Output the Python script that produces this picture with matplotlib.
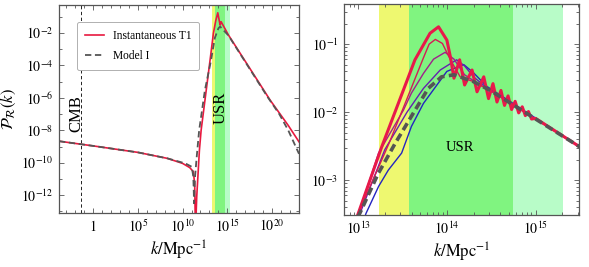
import matplotlib
matplotlib.use("Agg")
import matplotlib.pyplot as plt
import numpy as np
from matplotlib.ticker import FixedLocator, FixedFormatter, LogLocator, NullFormatter

plt.rcParams["font.family"] = ["Liberation Serif", "DejaVu Serif"]
plt.rcParams["mathtext.fontset"] = "stix"

# ---- left panel: full spectrum, log10 k vs log10 P ----
t1_logk = [-3.8, 0, 5, 8.3, 10.0, 10.8, 11.2, 11.35, 11.42, 11.48, 11.58, 11.88, 12.07,
           12.6, 13.07, 13.44, 13.7, 13.93, 14.19, 14.3, 15.12, 19.78, 21.8, 23.0]
t1_logp = [-8.67, -8.96, -9.36, -9.73, -10.04, -10.30, -10.55, -11.3, -13.6, -13.6, -12.1, -9.22, -8.0,
           -5.7, -3.67, -2.02, -1.25, -0.75, -1.51, -1.30, -2.12, -6.14, -7.70, -8.71]

m1_logk = [-3.8, 0, 5, 8.3, 10.3, 11.03, 11.2, 11.25, 11.28, 11.33, 11.4, 11.6, 11.85,
           12.5, 13.18, 13.6, 14.0, 14.19, 15.12, 19.5, 20.8, 21.8, 23.0]
m1_logp = [-8.67, -8.96, -9.36, -9.73, -10.04, -10.25, -10.87, -11.8, -12.5, -11.6, -10.8, -9.5, -8.0,
           -5.5, -3.67, -2.3, -1.71, -1.60, -2.15, -5.95, -7.0, -8.0, -9.45]

cmb_k = 0.05
usr_edges = [1.7e13, 3.7e13, 5.6e14, 2.05e15]   # yellow | green | light green

# ---- right panel: zoom on the peak ----
inst_a_logk = [12.9, 13.0, 13.265, 13.64, 13.81, 13.906, 14.0, 14.04, 14.08, 14.144, 14.20, 14.284,
               14.34, 14.416, 14.47, 14.52, 14.565, 14.61, 14.65, 14.69, 14.73, 14.77, 14.81, 14.85,
               14.885, 14.92, 14.955, 15.0, 15.5]
inst_a_logp = [-3.84, -3.49, -2.51, -1.23, -0.84, -0.745, -0.94, -1.19, -1.50, -1.23, -1.60, -1.38,
               -1.70, -1.48, -1.80, -1.58, -1.85, -1.68, -1.90, -1.76, -1.96, -1.84, -2.01, -1.92,
               -2.05, -1.99, -2.10, -2.09, -2.51]

inst_b_logk = [12.9, 13.0, 13.35, 13.736, 13.80, 13.87, 13.95, 14.04, 14.15, 14.3, 14.49, 15.5]
inst_b_logp = [-3.84, -3.49, -2.45, -1.20, -1.00, -0.93, -0.99, -1.23, -1.48, -1.55, -1.68, -2.51]

inst_c_logk = [12.9, 13.0, 13.23, 13.51, 13.60, 13.736, 13.85, 13.98, 14.08, 14.2, 14.35, 14.49, 15.5]
inst_c_logp = [-3.9, -3.5, -2.60, -1.97, -1.72, -1.43, -1.22, -1.12, -1.22, -1.45, -1.58, -1.68, -2.51]

inst_d_logk = [12.92, 13.02, 13.3, 13.55, 13.736, 13.925, 14.11, 14.2, 14.3, 14.45, 15.5]
inst_d_logp = [-3.9, -3.49, -2.55, -2.0, -1.65, -1.38, -1.23, -1.32, -1.48, -1.64, -2.51]

inst_e_logk = [13.0, 13.087, 13.23, 13.34, 13.49, 13.60, 13.736, 14.0, 14.19, 14.3, 14.45, 15.5]
inst_e_logp = [-3.85, -3.49, -3.09, -2.85, -2.60, -2.21, -1.87, -1.40, -1.30, -1.42, -1.62, -2.51]

model_logk = [12.93, 13.02, 13.226, 13.416, 13.6, 13.79, 13.94, 14.08, 14.19, 14.3, 14.49, 15.5]
model_logp = [-3.7, -3.48, -2.90, -2.46, -2.06, -1.65, -1.48, -1.45, -1.50, -1.55, -1.68, -2.51]

band_cols = ["#eef870", "#80f480", "#b8fcc8"]
GRAY = "#555555"


def pw(a):
    return 10.0 ** np.asarray(a)


def bands(ax):
    for lo, hi, c in zip(usr_edges[:-1], usr_edges[1:], band_cols):
        ax.axvspan(lo, hi, color=c, lw=0, zorder=0)


def frame(ax):
    for s in ax.spines.values():
        s.set_color(GRAY)
        s.set_linewidth(0.9)
    ax.tick_params(which="both", direction="in", top=True, right=True, color=GRAY,
                   width=0.6, labelsize=10, pad=4)
    ax.tick_params(which="major", length=3.5)
    ax.tick_params(which="minor", length=2)


fig = plt.figure(figsize=(5.89, 2.67), dpi=100)
ax1 = fig.add_axes([59 / 589, 54 / 267, 240 / 589, 208 / 267])
ax2 = fig.add_axes([344 / 589, 52 / 267, 235 / 589, 211 / 267])

# left
bands(ax1)
ax1.axvline(cmb_k, color="k", lw=0.6, dashes=(4, 3), zorder=1)
ax1.plot(pw(t1_logk), pw(t1_logp), color="#e8193f", lw=1.2, label="Instantaneous T1", zorder=2)
ax1.plot(pw(m1_logk), pw(m1_logp), color=GRAY, lw=1.3, dashes=(3.5, 2), label="Model I", zorder=3)
ax1.set_xscale("log")
ax1.set_yscale("log")
ax1.set_xlim(10 ** -3.8, 1e23)
ax1.set_ylim(10 ** -13.1, 10 ** -0.27)
ax1.xaxis.set_major_locator(FixedLocator([1, 1e5, 1e10, 1e15, 1e20]))
ax1.xaxis.set_major_formatter(FixedFormatter(["$1$", "$10^{5}$", "$10^{10}$", "$10^{15}$", "$10^{20}$"]))
ax1.xaxis.set_minor_locator(FixedLocator([10.0 ** e for e in range(-3, 24)]))
ax1.xaxis.set_minor_formatter(NullFormatter())
ax1.yaxis.set_major_locator(FixedLocator([10.0 ** e for e in range(-12, 0, 2)]))
ax1.yaxis.set_major_formatter(FixedFormatter([f"$10^{{{e}}}$" for e in range(-12, 0, 2)]))
ax1.yaxis.set_minor_locator(FixedLocator([10.0 ** e for e in range(-13, 0)]))
ax1.yaxis.set_minor_formatter(NullFormatter())
frame(ax1)
ax1.text(10 ** -1.9, 10 ** -7.0, "CMB", rotation=90, ha="center", va="center", fontsize=12)
ax1.text(10 ** 14.2, 10 ** -6.6, "USR", rotation=90, ha="center", va="center", fontsize=12)
leg = ax1.legend(loc="upper left", bbox_to_anchor=(0.075, 0.92), borderaxespad=0, fontsize=8.3,
                 handlelength=1.6, labelspacing=0.7, borderpad=0.7, fancybox=True, framealpha=1)
leg.get_frame().set_edgecolor("#b0b0b0")
leg.get_frame().set_linewidth(0.7)
ax1.set_xlabel(r"$k/\mathrm{Mpc}^{-1}$", fontsize=12, labelpad=3)
ax1.set_ylabel(r"$\mathcal{P}_{\mathcal{R}}(k)$", fontsize=12, labelpad=2)

# right
bands(ax2)
for lk, lp, col, lw in [(inst_e_logk, inst_e_logp, "#2424c0", 1.0),
                        (inst_d_logk, inst_d_logp, "#6420b0", 1.0),
                        (inst_c_logk, inst_c_logp, "#a0208c", 1.0),
                        (inst_b_logk, inst_b_logp, "#d41a55", 1.0),
                        (inst_a_logk, inst_a_logp, "#e8194a", 2.2)]:
    ax2.plot(pw(lk), pw(lp), color=col, lw=lw, zorder=2, solid_joinstyle="round")
ax2.plot(pw(model_logk), pw(model_logp), color=GRAY, lw=2.6, dashes=(2.2, 1.2), zorder=3)
ax2.set_xscale("log")
ax2.set_yscale("log")
ax2.set_xlim(10 ** 12.84, 10 ** 15.49)
ax2.set_ylim(10 ** -3.51, 10 ** -0.41)
ax2.xaxis.set_major_locator(FixedLocator([1e13, 1e14, 1e15]))
ax2.xaxis.set_major_formatter(FixedFormatter(["$10^{13}$", "$10^{14}$", "$10^{15}$"]))
ax2.xaxis.set_minor_locator(LogLocator(base=10, subs=np.arange(2, 10), numticks=20))
ax2.xaxis.set_minor_formatter(NullFormatter())
ax2.yaxis.set_major_locator(FixedLocator([1e-3, 1e-2, 1e-1]))
ax2.yaxis.set_major_formatter(FixedFormatter(["$10^{-3}$", "$10^{-2}$", "$10^{-1}$"]))
ax2.yaxis.set_minor_locator(LogLocator(base=10, subs=np.arange(2, 10), numticks=20))
ax2.yaxis.set_minor_formatter(NullFormatter())
frame(ax2)
ax2.text(10 ** 14.15, 10 ** -2.52, "USR", ha="center", va="center", fontsize=10.5)
ax2.set_xlabel(r"$k/\mathrm{Mpc}^{-1}$", fontsize=12, labelpad=3)

fig.savefig("out.png", dpi=100)
